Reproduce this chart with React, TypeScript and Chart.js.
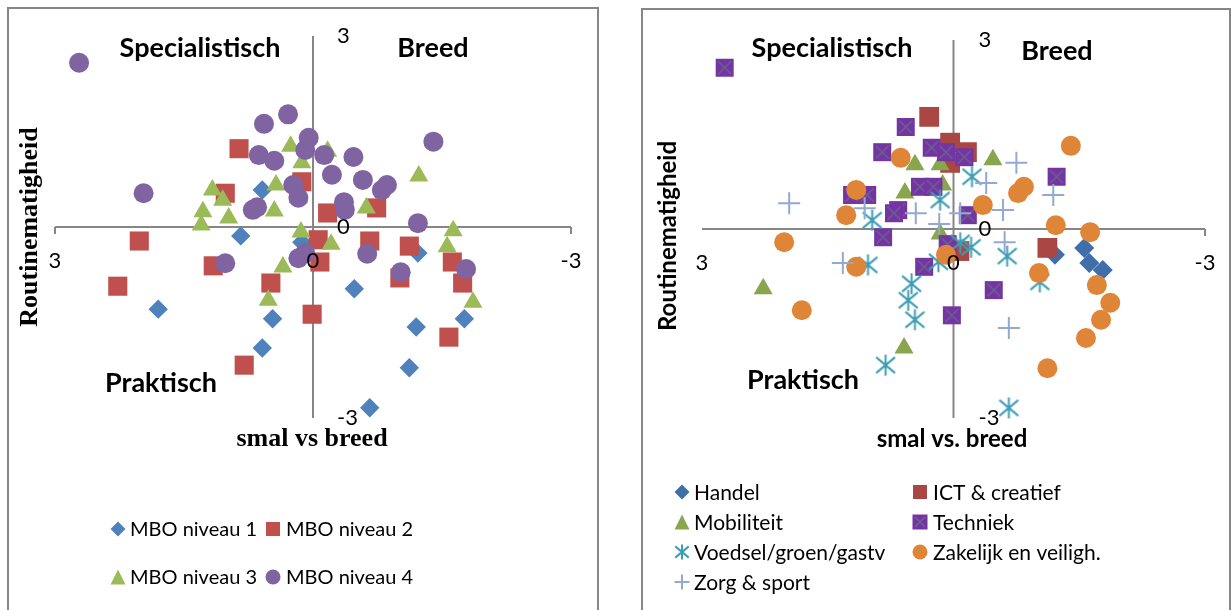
import React, { useEffect, useRef } from 'react';
import { Chart, registerables } from 'chart.js';

Chart.register(...registerables);

type Pt = [number, number];

// ---------- axis ticks ----------
const axisTicks = [3, 0, -3];
const tickLabels = ['3', '0', '-3'];

// ---------- left chart: MBO niveaus ----------
const mboLabels = ['MBO niveau 1', 'MBO niveau 2', 'MBO niveau 3', 'MBO niveau 4'];

const mbo1: Pt[] = [
  [1.8, -1.29], [0.84, -0.14], [0.59, 0.58], [0.47, -1.44], [0.59, -1.9], [0.13, -0.24],
  [-0.48, -0.97], [-1.22, -0.41], [-1.2, -1.57], [-1.12, -2.21], [-0.66, -2.84], [-1.76, -1.44],
];
const mbo2: Pt[] = [
  [2.27, -0.93], [2.02, -0.22], [0.86, 1.23], [1.02, 0.53], [1.16, -0.61], [0.8, -2.17],
  [0.49, -0.88], [0.13, 0.71], [0.01, -1.37], [-0.06, -0.2], [-0.08, -0.55], [-0.17, 0.22],
  [-0.66, -0.22], [-0.74, 0.3], [-1.01, -0.8], [-1.12, -0.3], [-1.62, -0.55], [-1.74, -0.88],
  [-1.58, -1.73],
];
const mbo3: Pt[] = [
  [1.17, 0.58], [1.05, 0.42], [1.28, 0.24], [0.98, 0.14], [1.3, 0.03], [0.43, 0.66],
  [0.45, 0.25], [0.26, 1.27], [0.13, 1.01], [0.17, 0.46], [-0.17, 1.19], [0.14, -0.08],
  [-0.21, -0.27], [0.35, -0.63], [0.52, -1.15], [-0.62, 0.3], [-1.23, 0.8], [-1.63, -0.06],
  [-1.56, -0.31], [-1.86, -1.18],
];
const mbo4: Pt[] = [
  [2.72, 2.58], [1.97, 0.53], [0.57, 1.62], [0.29, 1.77], [0.63, 1.13], [0.45, 1.04],
  [0.05, 1.4], [0.09, 1.21], [-0.13, 1.13], [-0.47, 1.1], [-0.22, 0.82], [-0.58, 0.74],
  [0.23, 0.66], [0.17, 0.46], [-0.8, 0.58], [-0.86, 0.66], [-0.36, 0.39], [-0.37, 0.27],
  [0.7, 0.27], [0.65, 0.31], [-1.4, 1.34], [-1.22, 0.06], [1.02, -0.57], [0.17, -0.49],
  [0.09, -0.41], [-0.63, -0.42], [-1.02, -0.71], [-1.78, -0.66],
];

// ---------- right chart: sectoren ----------
const sectorLabels = [
  'Handel', 'ICT & creatief', 'Mobiliteit', 'Techniek',
  'Voedsel/groen/gastv', 'Zakelijk en veiligh.', 'Zorg & sport',
];

const handel: Pt[] = [[-1.21, -0.41], [-1.56, -0.3], [-1.62, -0.54], [-1.78, -0.65]];
const ict: Pt[] = [[0.29, 1.78], [0.04, 1.37], [-0.16, 1.22], [0.04, 1.05], [-1.12, -0.3], [-0.07, -0.35]];
const mobiliteit: Pt[] = [
  [0.46, 1.02], [0.16, 1.02], [-0.47, 1.1], [0.58, 0.57], [0.13, 0.7], [0.16, -0.08],
  [2.27, -0.95], [0.59, -1.89],
];
const techniek: Pt[] = [
  [2.73, 2.56], [0.57, 1.62], [0.85, 1.22], [0.26, 1.29], [0.09, 1.22], [-0.13, 1.14],
  [0.4, 0.67], [0.24, 0.67], [1.21, 0.54], [1.03, 0.54], [0.66, 0.3], [0.71, 0.25],
  [0.84, -0.13], [-0.17, 0.22], [-1.23, 0.83], [0.07, -0.24], [0.35, -0.6], [-0.48, -0.97],
  [0.02, -1.37],
];
const voedsel: Pt[] = [
  [-0.22, 0.83], [0.16, 0.46], [0.97, 0.14], [-0.08, -0.22], [-0.21, -0.29], [0.18, -0.52],
  [-0.64, -0.43], [1.02, -0.57], [0.5, -0.87], [0.54, -1.13], [0.46, -1.44], [-1.03, -0.84],
  [0.81, -2.16], [-0.66, -2.84],
];
const zakelijk: Pt[] = [
  [0.63, 1.13], [1.16, 0.62], [1.28, 0.22], [2.02, -0.21], [1.16, -0.6], [1.81, -1.29],
  [-0.35, 0.38], [-0.77, 0.57], [-0.84, 0.67], [-1.4, 1.32], [-1.22, 0.06], [-1.63, -0.05],
  [0.09, -0.41], [-1.02, -0.7], [-1.71, -0.89], [-1.87, -1.17], [-1.76, -1.44], [-1.58, -1.73],
  [-1.12, -2.21],
];
const zorg: Pt[] = [
  [1.96, 0.41], [1.06, 0.33], [0.45, 0.25], [-0.08, 0.25], [-0.75, 1.05], [-0.39, 0.73],
  [-1.19, 0.54], [-0.59, 0.3], [0.17, 0.08], [-0.61, -0.21], [1.32, -0.54], [-0.66, -1.57],
];

// ---------- styles ----------
const GRAY = '#868686';
const SANS = 'Lato, "Open Sans", sans-serif';
const SERIF = '"Liberation Serif", "DejaVu Serif", serif';

type Kind = 'diamond' | 'square' | 'triangle' | 'circle' | 'squareX' | 'asterisk' | 'plus';

function drawMarker(ctx: CanvasRenderingContext2D, kind: Kind, x: number, y: number, s: number, color: string, color2?: string) {
  const h = s / 2;
  ctx.save();
  ctx.fillStyle = color;
  ctx.strokeStyle = color;
  ctx.beginPath();
  switch (kind) {
    case 'diamond':
      ctx.moveTo(x, y - h); ctx.lineTo(x + h, y); ctx.lineTo(x, y + h); ctx.lineTo(x - h, y);
      ctx.closePath(); ctx.fill();
      break;
    case 'square':
      ctx.fillRect(x - h, y - h, s, s);
      break;
    case 'triangle':
      ctx.moveTo(x, y - h); ctx.lineTo(x + h, y + h); ctx.lineTo(x - h, y + h);
      ctx.closePath(); ctx.fill();
      break;
    case 'circle':
      ctx.arc(x, y, h, 0, Math.PI * 2); ctx.fill();
      break;
    case 'squareX':
      ctx.fillRect(x - h, y - h, s, s);
      ctx.beginPath();
      ctx.strokeStyle = color2 || '#000';
      ctx.lineWidth = 1.6;
      ctx.moveTo(x - h + 2.5, y - h + 2.5); ctx.lineTo(x + h - 2.5, y + h - 2.5);
      ctx.moveTo(x + h - 2.5, y - h + 2.5); ctx.lineTo(x - h + 2.5, y + h - 2.5);
      ctx.stroke();
      break;
    case 'asterisk':
      ctx.lineWidth = 2;
      ctx.moveTo(x - h * 0.9, y - h * 0.75); ctx.lineTo(x + h * 0.9, y + h * 0.75);
      ctx.moveTo(x + h * 0.9, y - h * 0.75); ctx.lineTo(x - h * 0.9, y + h * 0.75);
      ctx.moveTo(x, y - h); ctx.lineTo(x, y + h);
      ctx.stroke();
      break;
    case 'plus':
      ctx.lineWidth = 2;
      ctx.moveTo(x - h, y); ctx.lineTo(x + h, y);
      ctx.moveTo(x, y - h); ctx.lineTo(x, y + h);
      ctx.stroke();
      break;
  }
  ctx.restore();
}

function markerImage(kind: Kind, s: number, color: string, color2?: string): HTMLCanvasElement {
  const c = document.createElement('canvas');
  const size = Math.ceil(s) + 2;
  c.width = size; c.height = size;
  const ctx = c.getContext('2d')!;
  drawMarker(ctx, kind, size / 2, size / 2, s, color, color2);
  return c;
}

type TextItem = { text: string; x: number; y: number; font: string; rotate?: boolean };
type LegendItem = { kind: Kind; label: string; x: number; tx: number; y: number; color: string; color2?: string; size: number };

interface PanelCfg {
  border: { left: number; top: number; right: number };
  texts: TextItem[];
  legend: LegendItem[];
  tickFont: string;
  legendFont: string;
  xLabelDy: number;
  yLabelDx: number;
  endTicks: [boolean, boolean];
}

function panelPlugin(cfg: PanelCfg) {
  return {
    id: 'panelDecor',
    beforeDatasetsDraw(chart: any) {
      const ctx: CanvasRenderingContext2D = chart.ctx;
      const xs = chart.scales.x;
      const ys = chart.scales.y;
      ctx.save();
      ctx.strokeStyle = GRAY;
      ctx.lineWidth = 2;
      ctx.beginPath();
      ctx.moveTo(cfg.border.left, 700);
      ctx.lineTo(cfg.border.left, cfg.border.top);
      ctx.lineTo(cfg.border.right, cfg.border.top);
      ctx.lineTo(cfg.border.right, 700);
      ctx.stroke();

      const x0 = xs.getPixelForValue(0);
      const y0 = ys.getPixelForValue(0);
      const xa = xs.getPixelForValue(axisTicks[0]);
      const xb = xs.getPixelForValue(axisTicks[2]);
      ctx.beginPath();
      ctx.moveTo(xa, y0); ctx.lineTo(xb, y0);
      ctx.moveTo(x0, ys.getPixelForValue(axisTicks[0]));
      ctx.lineTo(x0, ys.getPixelForValue(axisTicks[2]));
      if (cfg.endTicks[0]) { ctx.moveTo(xa, y0); ctx.lineTo(xa, y0 + 7); }
      if (cfg.endTicks[1]) { ctx.moveTo(xb, y0); ctx.lineTo(xb, y0 + 7); }
      ctx.stroke();
      ctx.restore();
    },
    afterDatasetsDraw(chart: any) {
      const ctx: CanvasRenderingContext2D = chart.ctx;
      const xs = chart.scales.x;
      const ys = chart.scales.y;
      const x0 = xs.getPixelForValue(0);
      const y0 = ys.getPixelForValue(0);
      ctx.save();
      ctx.fillStyle = '#000';
      ctx.font = cfg.tickFont;
      ctx.textBaseline = 'middle';
      ctx.textAlign = 'center';
      axisTicks.forEach((v, i) => {
        ctx.fillText(tickLabels[i], xs.getPixelForValue(v), y0 + cfg.xLabelDy);
      });
      ctx.textAlign = 'left';
      axisTicks.forEach((v, i) => {
        ctx.fillText(tickLabels[i], x0 + cfg.yLabelDx, ys.getPixelForValue(v));
      });
      ctx.textAlign = 'center';
      cfg.texts.forEach((t) => {
        ctx.font = t.font;
        if (t.rotate) {
          ctx.save();
          ctx.translate(t.x, t.y);
          ctx.rotate(-Math.PI / 2);
          ctx.fillText(t.text, 0, 0);
          ctx.restore();
        } else {
          ctx.fillText(t.text, t.x, t.y);
        }
      });
      ctx.textAlign = 'left';
      ctx.font = cfg.legendFont;
      cfg.legend.forEach((l) => {
        drawMarker(ctx, l.kind, l.x, l.y, l.size, l.color, l.color2);
        ctx.fillStyle = '#000';
        ctx.fillText(l.label, l.tx, l.y + 1);
      });
      ctx.restore();
    },
  };
}

function toXY(p: Pt[]) {
  return p.map(([x, y]) => ({ x, y }));
}

function baseOptions(padding: { left: number; right: number; top: number; bottom: number }) {
  return {
    responsive: false,
    animation: false as const,
    layout: { padding },
    plugins: { legend: { display: false }, tooltip: { enabled: false }, title: { display: false } },
    scales: {
      x: { type: 'linear' as const, min: -3, max: 3, reverse: true, display: false },
      y: { type: 'linear' as const, min: -3, max: 3, display: false },
    },
    elements: { point: { borderWidth: 0 } },
  };
}

const LEFT_COLORS = ['#4F81BD', '#C0504D', '#9BBB59', '#8064A2'];
const RIGHT_COLORS = ['#3F6EAA', '#AA4643', '#89A54E', '#7434A2', '#3E9DB5', '#DF8538', '#93A9CF'];
const TECH_X = '#6B6192';

function LeftChart() {
  const ref = useRef<HTMLCanvasElement>(null);
  useEffect(() => {
    const series = [mbo1, mbo2, mbo3, mbo4];
    const styles: any[] = [
      { pointStyle: 'rectRot', pointRadius: 9.7 },
      { pointStyle: 'rect', pointRadius: 13.5 },
      { pointStyle: 'triangle', pointRadius: 11 },
      { pointStyle: 'circle', pointRadius: 10 },
    ];
    const datasets = series.map((s, i) => ({
      label: mboLabels[i],
      data: toXY(s),
      showLine: false,
      backgroundColor: LEFT_COLORS[i],
      borderColor: LEFT_COLORS[i],
      borderWidth: 0,
      order: series.length - i,
      clip: false as const,
      ...styles[i],
    }));
    const cfg: PanelCfg = {
      border: { left: 8, top: 8, right: 598 },
      tickFont: `22px ${SANS}`,
      legendFont: `20px ${SANS}`,
      xLabelDy: 34,
      yLabelDx: 24,
      endTicks: [true, true],
      texts: [
        { text: 'Specialistisch', x: 200, y: 48, font: `bold 27px ${SANS}` },
        { text: 'Breed', x: 433, y: 48, font: `bold 27px ${SANS}` },
        { text: 'Praktisch', x: 161, y: 383, font: `bold 27px ${SANS}` },
        { text: 'smal vs breed', x: 312, y: 439, font: `bold 26px ${SERIF}` },
        { text: 'Routinematigheid', x: 30, y: 227, font: `bold 26px ${SERIF}`, rotate: true },
      ],
      legend: [
        { kind: 'diamond', label: mboLabels[0], x: 118, tx: 130, y: 529, color: LEFT_COLORS[0], size: 15 },
        { kind: 'square', label: mboLabels[1], x: 273, tx: 286, y: 529, color: LEFT_COLORS[1], size: 14 },
        { kind: 'triangle', label: mboLabels[2], x: 118, tx: 130, y: 577, color: LEFT_COLORS[2], size: 15 },
        { kind: 'circle', label: mboLabels[3], x: 273, tx: 286, y: 577, color: LEFT_COLORS[3], size: 15 },
      ],
    };
    const chart = new Chart(ref.current!, {
      type: 'scatter',
      data: { datasets },
      options: baseOptions({ left: 55, right: 615 - 571, top: 36, bottom: 610 - 418 }) as any,
      plugins: [panelPlugin(cfg)],
    });
    return () => chart.destroy();
  }, []);
  return <canvas ref={ref} width={615} height={610} style={{ position: 'absolute', left: 0, top: 0 }} />;
}

function RightChart() {
  const ref = useRef<HTMLCanvasElement>(null);
  useEffect(() => {
    const series = [handel, ict, mobiliteit, techniek, voedsel, zakelijk, zorg];
    const techImg = markerImage('squareX', 18, RIGHT_COLORS[3], TECH_X);
    const starImg = markerImage('asterisk', 21, RIGHT_COLORS[4]);
    const styles: any[] = [
      { pointStyle: 'rectRot', pointRadius: 10 },
      { pointStyle: 'rect', pointRadius: 14 },
      { pointStyle: 'triangle', pointRadius: 11 },
      { pointStyle: techImg, pointRadius: 10 },
      { pointStyle: starImg, pointRadius: 10 },
      { pointStyle: 'circle', pointRadius: 10 },
      { pointStyle: 'cross', pointRadius: 11, borderWidth: 2 },
    ];
    const datasets = series.map((s, i) => ({
      label: sectorLabels[i],
      data: toXY(s),
      showLine: false,
      backgroundColor: RIGHT_COLORS[i],
      borderColor: RIGHT_COLORS[i],
      borderWidth: 0,
      pointBorderWidth: i === 6 ? 2 : 0,
      order: series.length - i,
      clip: false as const,
      ...styles[i],
    }));
    const ox = 615;
    const cfg: PanelCfg = {
      border: { left: 642 - ox, top: 9, right: 1230 - ox },
      tickFont: `22px ${SANS}`,
      legendFont: `21px ${SANS}`,
      xLabelDy: 34,
      yLabelDx: 25,
      endTicks: [false, true],
      texts: [
        { text: 'Specialistisch', x: 832 - ox, y: 48, font: `bold 27px ${SANS}` },
        { text: 'Breed', x: 1057 - ox, y: 51, font: `bold 27px ${SANS}` },
        { text: 'Praktisch', x: 803 - ox, y: 380, font: `bold 27px ${SANS}` },
        { text: 'smal vs. breed', x: 952 - ox, y: 439, font: `bold 24px ${SANS}` },
        { text: 'Routinematigheid', x: 668 - ox, y: 236, font: `bold 24px ${SANS}`, rotate: true },
      ],
      legend: [
        { kind: 'diamond', label: sectorLabels[0], x: 682 - ox, tx: 694 - ox, y: 492, color: RIGHT_COLORS[0], size: 15 },
        { kind: 'square', label: sectorLabels[1], x: 920 - ox, tx: 933 - ox, y: 492, color: RIGHT_COLORS[1], size: 14 },
        { kind: 'triangle', label: sectorLabels[2], x: 682 - ox, tx: 694 - ox, y: 522, color: RIGHT_COLORS[2], size: 15 },
        { kind: 'squareX', label: sectorLabels[3], x: 920 - ox, tx: 933 - ox, y: 522, color: RIGHT_COLORS[3], color2: TECH_X, size: 15 },
        { kind: 'asterisk', label: sectorLabels[4], x: 682 - ox, tx: 694 - ox, y: 552, color: RIGHT_COLORS[4], size: 15 },
        { kind: 'circle', label: sectorLabels[5], x: 920 - ox, tx: 933 - ox, y: 552, color: RIGHT_COLORS[5], size: 15 },
        { kind: 'plus', label: sectorLabels[6], x: 682 - ox, tx: 694 - ox, y: 582, color: RIGHT_COLORS[6], size: 15 },
      ],
    };
    const chart = new Chart(ref.current!, {
      type: 'scatter',
      data: { datasets },
      options: baseOptions({ left: 702 - ox, right: 1231 - 1205, top: 40, bottom: 610 - 418 }) as any,
      plugins: [panelPlugin(cfg)],
    });
    return () => chart.destroy();
  }, []);
  return <canvas ref={ref} width={616} height={610} style={{ position: 'absolute', left: 615, top: 0 }} />;
}

export default function App() {
  return (
    <div style={{ position: 'fixed', left: 0, top: 0, width: 1231, height: 610, background: '#fff', overflow: 'hidden' }}>
      <LeftChart />
      <RightChart />
    </div>
  );
}
